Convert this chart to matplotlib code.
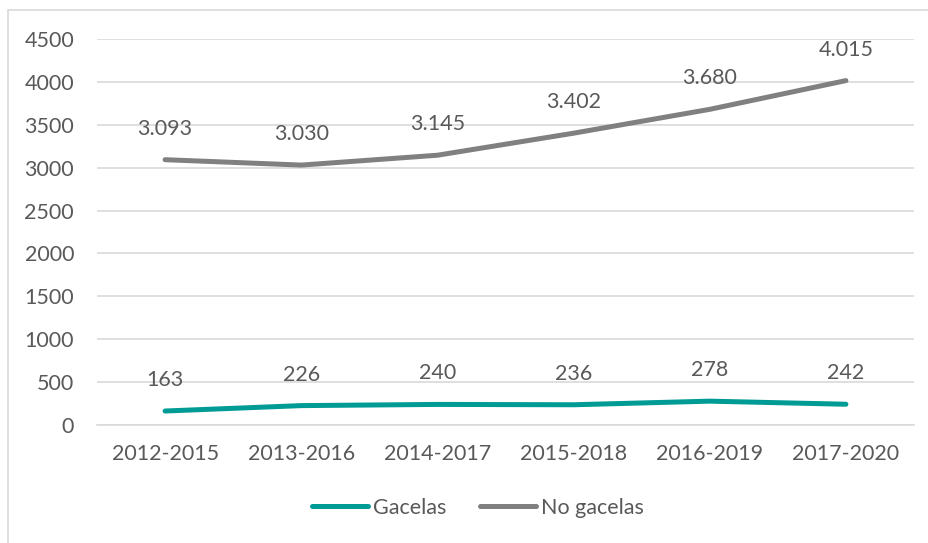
import matplotlib
matplotlib.use("Agg")
import matplotlib.pyplot as plt
from matplotlib.patches import Rectangle

categories = ["2012-2015", "2013-2016", "2014-2017", "2015-2018", "2016-2019", "2017-2020"]
gacelas = [163, 226, 240, 236, 278, 242]
no_gacelas = [3093, 3030, 3145, 3402, 3680, 4015]
yticks = [0, 500, 1000, 1500, 2000, 2500, 3000, 3500, 4000, 4500]

def fmt(v):
    return f"{v:,}".replace(",", ".")

plt.rcParams['font.family'] = ['Lato', 'DejaVu Sans']
TXT = '#595959'
FS = 15.5

W, H = 929, 543
fig = plt.figure(figsize=(W / 100, H / 100), dpi=100)
fig.patches.append(Rectangle((8 / W, -0.1), 1.2, 1 - 10 / H + 0.1, transform=fig.transFigure,
                             fill=False, edgecolor='#D9D9D9', linewidth=1.2, zorder=0))

ax = fig.add_axes([97 / W, 1 - 425 / H, (914 - 97) / W, (425 - 39) / H])
x = list(range(len(categories)))
ax.plot(x, gacelas, color='#009B95', lw=3.6, solid_capstyle='round', label='Gacelas', zorder=3)
ax.plot(x, no_gacelas, color='#808080', lw=3.6, solid_capstyle='round', label='No gacelas', zorder=3)

for xi, v in zip(x, gacelas):
    ax.annotate(fmt(v), (xi, v), xytext=(0, 31), textcoords='offset pixels',
                ha='center', va='center', fontsize=FS, color=TXT)
for xi, v in zip(x, no_gacelas):
    ax.annotate(fmt(v), (xi, v), xytext=(0, 31), textcoords='offset pixels',
                ha='center', va='center', fontsize=FS, color=TXT)

ax.set_xlim(-0.5, len(categories) - 0.5)
ax.set_ylim(0, 4500)
ax.set_yticks(yticks)
ax.set_yticklabels([str(t) for t in yticks])
ax.set_xticks(x)
ax.set_xticklabels(categories)
ax.tick_params(axis='both', length=0, labelsize=FS, colors=TXT)
ax.tick_params(axis='y', pad=16.5)
ax.tick_params(axis='x', pad=14)
ax.grid(axis='y', color='#D9D9D9', lw=1.2)
ax.set_axisbelow(True)
for s in ['top', 'right', 'left']:
    ax.spines[s].set_visible(False)
ax.spines['bottom'].set_color('#D9D9D9')
ax.spines['bottom'].set_linewidth(1.2)

leg = fig.legend(loc='center', bbox_to_anchor=(478 / W, 1 - 508 / H), ncol=2, frameon=False,
                 fontsize=FS, handlelength=2.6, handletextpad=0.2, columnspacing=1.6)
for t in leg.get_texts():
    t.set_color(TXT)

fig.savefig('out.png', dpi=100)
